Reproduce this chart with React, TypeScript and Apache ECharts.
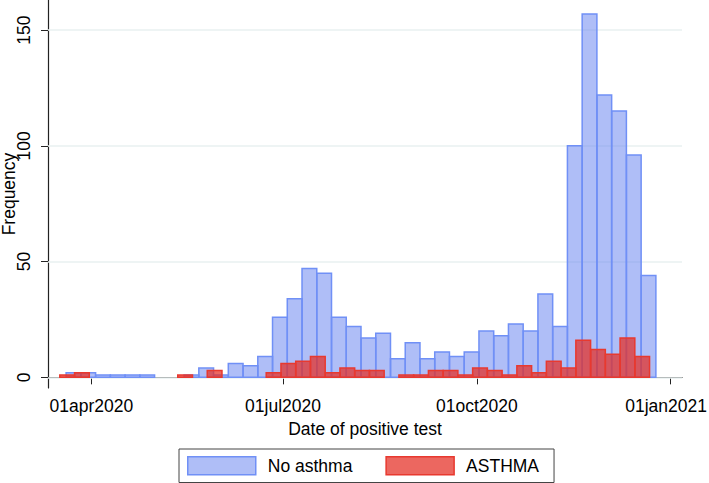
import React, { useEffect, useRef } from "react";
import * as echarts from "echarts";

// Histogram bins (days since 31dec2019, i.e. 01jan2020 = day 1; 01apr2020 = day 91)
const binWidth = 7;
const noAsthmaStart = 79;
const asthmaStart = 76;

const noAsthmaCounts = [
  2, 2, 1, 1, 1, 1, 0, 0, 1, 4,
  1, 6, 5, 9, 26, 34, 47, 45, 26, 22,
  17, 19, 8, 15, 8, 11, 9, 11, 20, 18,
  23, 20, 36, 22, 100, 157, 122, 115, 96, 44,
];

const asthmaCounts = [
  1, 2, 0, 0, 0, 0, 0, 0, 1, 0,
  3, 0, 0, 0, 2, 6, 7, 9, 2, 4,
  3, 3, 0, 1, 1, 3, 3, 1, 4, 3,
  1, 5, 2, 7, 4, 16, 12, 10, 17, 9,
];

const xTickValues = [91, 182, 274, 366];
const xTickLabels = ["01apr2020", "01jul2020", "01oct2020", "01jan2021"];
const yTickValues = [0, 50, 100, 150];

const seriesNames = ["No asthma", "ASTHMA"];

const FONT = "'Liberation Sans', Arial, Helvetica, sans-serif";

const BLUE_FILL = "rgba(95,125,240,0.5)";
const BLUE_LINE = "#7090f6";
const RED_FILL = "rgba(228,45,35,0.72)";
const RED_LINE = "#e8392f";

function toBins(start: number, counts: number[]) {
  return counts.map((c, i) => [start + i * binWidth, start + (i + 1) * binWidth, c]);
}

function makeRender(fill: string, stroke: string) {
  return (params: any, api: any) => {
    const s = api.value(0);
    const e = api.value(1);
    const v = api.value(2);
    if (!v) return null;
    const p0 = api.coord([s, v]);
    const p1 = api.coord([e, 0]);
    return {
      type: "rect",
      shape: { x: p0[0], y: p0[1], width: p1[0] - p0[0], height: p1[1] - p0[1] },
      style: { fill, stroke, lineWidth: 1.5 },
    };
  };
}

export default function App() {
  const ref = useRef<HTMLDivElement>(null);
  useEffect(() => {
    if (!ref.current) return;
    const chart = echarts.init(ref.current, null, { renderer: "svg" });
    chart.setOption({
      animation: false,
      backgroundColor: "#ffffff",
      grid: { left: 48, right: 27, top: 0, bottom: 95, containLabel: false, outerBoundsMode: "none" },
      xAxis: {
        type: "value",
        min: 70.4,
        max: 371.4,
        name: "Date of positive test",
        nameLocation: "middle",
        nameGap: 32,
        nameMoveOverlap: false,
        nameTextStyle: { fontFamily: FONT, fontSize: 17.5, color: "#000" },
        axisLine: { lineStyle: { color: "#222", width: 1.2 } },
        axisTick: { show: true, length: 7, customValues: xTickValues, lineStyle: { color: "#222" } },
        axisLabel: {
          customValues: xTickValues,
          margin: 9,
          fontFamily: FONT,
          fontSize: 17.5,
          color: "#000",
          formatter: (v: number) => {
            const i = xTickValues.indexOf(Math.round(v));
            if (i < 0) return "";
            return i === xTickLabels.length - 1 ? "{last|" + xTickLabels[i] + "}" : xTickLabels[i];
          },
          rich: {
            last: { fontFamily: FONT, fontSize: 17.5, color: "#000", padding: [0, 9, 0, 0] },
          },
        },
        splitLine: { show: false },
      },
      yAxis: {
        type: "value",
        min: -4.6,
        max: 163,
        name: "Frequency",
        nameLocation: "middle",
        nameGap: 30,
        nameMoveOverlap: false,
        nameTextStyle: { fontFamily: FONT, fontSize: 17.5, color: "#000" },
        axisLine: { show: true, lineStyle: { color: "#222", width: 1.2 } },
        axisTick: { show: true, length: 7, customValues: yTickValues, lineStyle: { color: "#222" } },
        axisLabel: {
          customValues: yTickValues,
          rotate: 90,
          margin: 15,
          fontFamily: FONT,
          fontSize: 17.5,
          color: "#000",
        },
        splitLine: { show: false },
      },
      legend: {
        left: 179,
        top: 449,
        orient: "horizontal",
        padding: [7, 15, 7, 8],
        itemWidth: 68,
        itemHeight: 18,
        itemGap: 33,
        borderColor: "#444",
        borderWidth: 1,
        borderRadius: 0,
        textStyle: { fontFamily: FONT, fontSize: 17.5, color: "#000", padding: [0, 0, 0, 7] },
        data: [
          { name: seriesNames[0], icon: "rect", itemStyle: { color: BLUE_FILL, borderColor: BLUE_LINE, borderWidth: 1.5 } },
          { name: seriesNames[1], icon: "rect", itemStyle: { color: RED_FILL, borderColor: RED_LINE, borderWidth: 1.5 } },
        ],
      },
      series: [
        {
          name: seriesNames[0],
          type: "custom",
          renderItem: makeRender(BLUE_FILL, BLUE_LINE),
          encode: { x: [0, 1], y: 2 },
          data: toBins(noAsthmaStart, noAsthmaCounts),
          itemStyle: { color: BLUE_FILL, borderColor: BLUE_LINE },
          z: 2,
          markLine: {
            silent: true,
            symbol: "none",
            label: { show: false },
            lineStyle: { color: "#e8f0f1", width: 1.5, type: "solid" },
            data: yTickValues.map((v) => ({ yAxis: v })),
            z: 1,
          },
        },
        {
          name: seriesNames[1],
          type: "custom",
          renderItem: makeRender(RED_FILL, RED_LINE),
          encode: { x: [0, 1], y: 2 },
          data: toBins(asthmaStart, asthmaCounts),
          itemStyle: { color: RED_FILL, borderColor: RED_LINE },
          z: 3,
        },
      ],
    });
    return () => chart.dispose();
  }, []);
  return <div ref={ref} style={{ width: 709, height: 483, position: "absolute", left: 0, top: 0 }} />;
}
